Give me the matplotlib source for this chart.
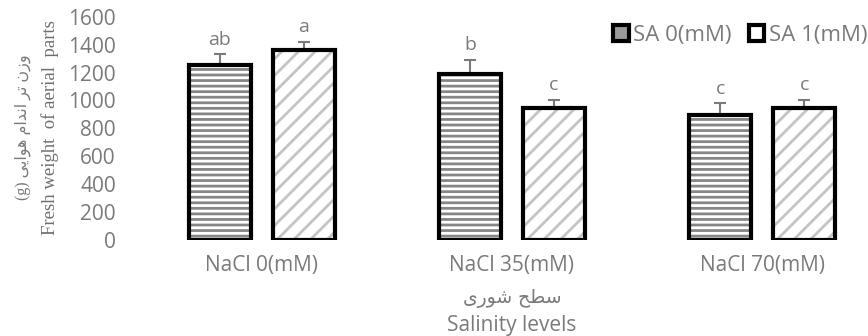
import matplotlib.pyplot as plt
import numpy as np
from matplotlib.patches import Patch

# values
categories = ['NaCl 0(mM)', 'NaCl 35(mM)', 'NaCl 70(mM)']
sa0 = [1255, 1190, 897]
sa1 = [1360, 945, 947]
sa0_err = [75, 100, 82]
sa1_err = [60, 58, 56]
sa0_letters = ['ab', 'b', 'c']
sa1_letters = ['a', 'c', 'c']
yticks = [0, 200, 400, 600, 800, 1000, 1200, 1400, 1600]

# persian text written in visual order with presentation forms (no shaping in matplotlib)
ylabel_fa = ('(g) '
             '\ufbfd\ufbfe\ufe8d\ufeee\ufeeb '
             '\ufee1\ufe8d\ufeaa\ufee7\ufe8d '
             '\ufeae\ufe97 '
             '\ufee5\ufeaf\ufeed')
xlabel_fa = '\ufbfc\ufead\ufeee\ufeb7 \ufea2\ufec4\ufeb3'
ylabel_en = 'Fresh weight  of aerial  parts'
xlabel_en = 'Salinity levels'

plt.rcParams['font.family'] = ['Open Sans', 'DejaVu Sans']
plt.rcParams['hatch.linewidth'] = 2.0
gray = '#7a7a7a'

fig = plt.figure(figsize=(8.68, 3.36), dpi=100)
ax = fig.add_axes([136.7 / 868, 96 / 336, (866 - 136.7) / 868, 223.3 / 336])

x = np.arange(len(categories))
off = 0.168
w = 0.248

ax.bar(x - off, sa0, w, color='white', edgecolor='#868686', hatch='---', linewidth=0, zorder=2)
ax.bar(x + off, sa1, w, color='white', edgecolor='#c4c4c4', hatch='//', linewidth=0, zorder=2)
ax.errorbar(x - off, sa0, yerr=[np.zeros(3), sa0_err], fmt='none', ecolor=gray,
            capsize=4, elinewidth=1.5, capthick=1.5, zorder=3)
ax.errorbar(x + off, sa1, yerr=[np.zeros(3), sa1_err], fmt='none', ecolor=gray,
            capsize=4, elinewidth=1.5, capthick=1.5, zorder=3)
ax.bar(x - off, sa0, w, fill=False, edgecolor='black', linewidth=3, zorder=4)
ax.bar(x + off, sa1, w, fill=False, edgecolor='black', linewidth=3, zorder=4)

for xi, v, e, t in zip(x - off, sa0, sa0_err, sa0_letters):
    ax.annotate(t, (xi, v + e), xytext=(0, 4), textcoords='offset points',
                ha='center', va='bottom', fontsize=14, color=gray)
for xi, v, e, t in zip(x + off, sa1, sa1_err, sa1_letters):
    ax.annotate(t, (xi, v + e), xytext=(0, 4), textcoords='offset points',
                ha='center', va='bottom', fontsize=14, color=gray)

ax.set_xlim(-0.5, -0.5 + (866 - 136.7) / 250.2)
ax.set_ylim(0, 1600)
ax.set_yticks(yticks)
ax.set_xticks(x)
ax.set_xticklabels(categories)
ax.tick_params(length=0, labelsize=15, labelcolor=gray)
ax.tick_params(axis='y', pad=15)
ax.tick_params(axis='x', pad=11)
for s in ax.spines.values():
    s.set_visible(False)

# axis titles
fig.text(50 / 868, 1 - 128 / 336, ylabel_en, rotation=90, ha='center', va='center',
         fontsize=13.5, color='#6e6e6e', family='Liberation Serif')
fig.text(23 / 868, 1 - 127 / 336, ylabel_fa, rotation=90, ha='center', va='center',
         fontsize=11.5, color=gray, family=['Liberation Serif', 'DejaVu Sans'])
fig.text(512 / 868, 1 - 299 / 336, xlabel_fa, ha='center', va='center',
         fontsize=13.5, color=gray, family=['DejaVu Sans'])
fig.text(512 / 868, 1 - 325 / 336, xlabel_en, ha='center', va='center',
         fontsize=15, color=gray)

handles = [Patch(facecolor='#9a9a9a', edgecolor='black', linewidth=3),
           Patch(facecolor='white', edgecolor='black', linewidth=3)]
fig.legend(handles, ['SA 0(mM)', 'SA 1(mM)'], loc='upper right',
           bbox_to_anchor=(1.022, 0.985), ncol=2, frameon=False, fontsize=16,
           handlelength=0.7, handleheight=0.7, handletextpad=0.2,
           columnspacing=0.75, labelcolor=gray)

fig.savefig('out.png', dpi=100)
